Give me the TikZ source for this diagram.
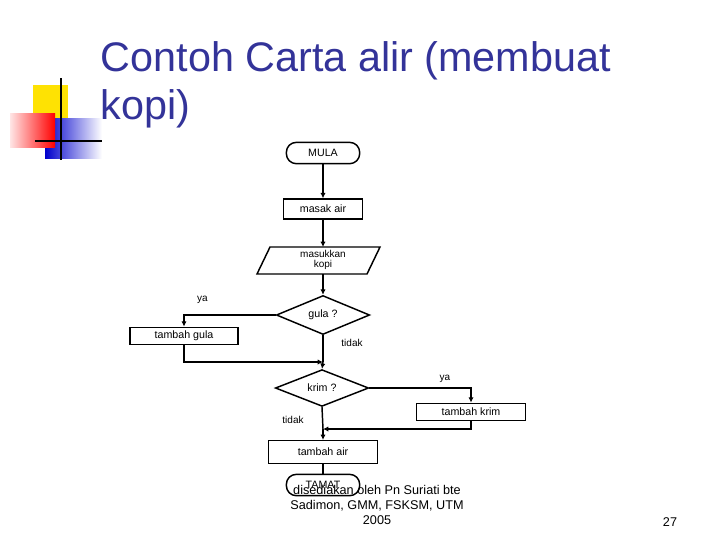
\documentclass[tikz,border=0pt]{standalone}
\usepackage{fontspec}
\setmainfont{Liberation Sans}
\usetikzlibrary{shapes.geometric,arrows.meta}
\definecolor{titleblue}{RGB}{51,51,153}
\tikzset{every picture/.style={line width=0.75pt}}
\tikzset{
  flowbox/.style={draw, line width=1.1pt, font=\fontsize{8}{9}\selectfont, inner sep=0pt},
  proc/.style={flowbox, rectangle},
  term/.style={flowbox, rectangle, rounded corners=7.5pt, minimum width=55pt, minimum height=16pt},
  decide/.style={flowbox, diamond, minimum width=70pt, minimum height=22pt},
  flow/.style={line width=1.1pt, -{Latex[length=4pt,width=4pt]}},
  link/.style={line width=1.1pt},
  lbl/.style={font=\fontsize{7.5}{9}\selectfont}
}
\begin{document}
\begin{tikzpicture}[x=0.75pt,y=0.75pt,yscale=-1,xscale=1]
\useasboundingbox (0,0) rectangle (720,540);

% decoration
\fill[yellow!85!orange] (33,85) rectangle (68,118);
\shade[left color=blue!80!black, right color=white] (45,118) rectangle (102,158);
\shade[left color=red!10, right color=red] (10,113) rectangle (55,147);
\draw[line width=1.5pt] (61,78) -- (61,160);
\draw[line width=1.5pt] (35,141) -- (102,141);

% title
\node[anchor=west, text=titleblue, font=\fontsize{31}{36}\selectfont, align=left] (title) at (96,85) {Contoh Carta alir (membuat\\kopi)};

% flowchart
\node[term] (mula) at (323,153) {MULA};
\node[proc, minimum width=59pt, minimum height=15pt] (masak) at (323,209) {masak air};
\node[flowbox, draw=none, align=center, font=\fontsize{7.5}{8}\selectfont] (kopi) at (323,260) {masukkan\\kopi};
\draw[line width=1.1pt] (270,247) -- (380,247) -- (367,274) -- (257,274) -- cycle;
\coordinate (kopitop) at (323,247);
\coordinate (kopibot) at (323,274);
\node[decide] (gula) at (323,315) {gula ?};
\node[proc, minimum width=81pt, minimum height=13pt] (tgula) at (184,336) {tambah gula};
\node[decide] (krim) at (322,388) {krim ?};
\node[proc, minimum width=82pt, minimum height=13pt] (tkrim) at (471,412) {tambah krim};
\node[proc, minimum width=82pt, minimum height=17pt] (tair) at (323,452) {tambah air};
\node[term] (tamat) at (323,485) {TAMAT};

\coordinate (jgula) at (323,362);
\coordinate (jkrim) at (323,429);

\draw[flow] (mula) -- (masak);
\draw[flow] (masak) -- (kopitop);
\draw[flow] (kopibot) -- (gula);
\draw[flow] (gula.west) -| (tgula.north) node[lbl, pos=0.4, above=5pt] {ya};
\draw[link] (gula.south) -- (jgula);
\draw[flow] (tgula.south) |- (jgula);
\draw[flow] (jgula) -- (krim.north);
\draw[flow] (krim.east) -| (tkrim.north) node[lbl, pos=0.45, above=0pt, xshift=-12pt] {ya};
\draw[link] (krim.south) -- (jkrim);
\draw[flow] (tkrim.south) |- (jkrim);
\draw[flow] (jkrim) -- (tair.north);
\draw[link] (tair) -- (tamat);

\node[lbl] (tidak1) at (352,343) {tidak};
\node[lbl] (tidak2) at (293,420) {tidak};

% footer
\node[align=center, font=\fontsize{9.5}{11}\selectfont] (foot) at (377,505) {disediakan oleh Pn Suriati bte\\Sadimon, GMM, FSKSM, UTM\\2005};
\node[font=\fontsize{9.5}{11}\selectfont] (page) at (670,522) {27};
\end{tikzpicture}
\end{document}
